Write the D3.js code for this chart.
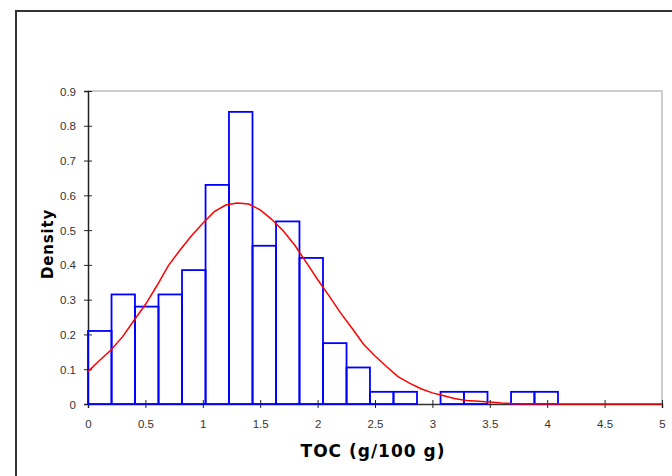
<!DOCTYPE html>
<html>
<head>
<meta charset="utf-8">
<script src="https://cdn.jsdelivr.net/npm/d3@7"></script>
<style>
  body { margin: 0; background: #fff; }
  .axis-title { font-family: "DejaVu Sans", Verdana, sans-serif; font-weight: bold; fill: #000; }
</style>
</head>
<body>
<div id="chart"></div>
<script>
        // histogram bins (TOC, g/100 g) and density per bin
        const binEdges = [0, 0.205, 0.409, 0.614, 0.819, 1.024, 1.228, 1.433, 1.638, 1.842, 2.047,
            2.252, 2.456, 2.661, 2.866, 3.071, 3.275, 3.480, 3.685, 3.889, 4.094];
        const binDensity = [0.21, 0.315, 0.28, 0.315, 0.385, 0.63, 0.84, 0.455, 0.525, 0.42,
            0.175, 0.105, 0.035, 0.035, 0, 0.035, 0.035, 0, 0.035, 0.035];

        // fitted density curve
        const curveX = [0, 0.1, 0.2, 0.3, 0.4, 0.5, 0.6, 0.7, 0.8, 0.9, 1.0, 1.1, 1.2, 1.3, 1.4, 1.5,
            1.6, 1.7, 1.8, 1.9, 2.0, 2.1, 2.2, 2.3, 2.4, 2.5, 2.6, 2.7, 2.8, 2.9, 3.0, 3.1, 3.2, 3.3,
            3.4, 3.5, 3.6, 3.7, 3.8, 5.0];
        const curveY = [0.093, 0.125, 0.155, 0.193, 0.24, 0.286, 0.34, 0.398, 0.442, 0.483, 0.52,
            0.553, 0.572, 0.578, 0.575, 0.558, 0.531, 0.498, 0.457, 0.408, 0.358, 0.311, 0.262,
            0.218, 0.172, 0.138, 0.108, 0.079, 0.06, 0.044, 0.032, 0.024, 0.015, 0.01, 0.008,
            0.006, 0.003, 0.001, 0, 0];

        const xTicks = [0, 0.5, 1, 1.5, 2, 2.5, 3, 3.5, 4, 4.5, 5];
        const yTicks = [0, 0.1, 0.2, 0.3, 0.4, 0.5, 0.6, 0.7, 0.8, 0.9];

        const width = 672, height = 476;
        const plot = { left: 88, right: 662, top: 91, bottom: 404 };

        const svg = d3.select("#chart")
            .append("svg")
            .attr("width", width)
            .attr("height", height);

        // outer chart frame
        svg.append("rect")
            .attr("x", 16).attr("y", 11)
            .attr("width", 700).attr("height", 500)
            .attr("fill", "none")
            .attr("stroke", "#333")
            .attr("stroke-width", 2);

        const x = d3.scaleLinear().domain([0, 5]).range([plot.left, plot.right]);
        const y = d3.scaleLinear().domain([0, 0.9]).range([plot.bottom, plot.top]);

        // plot area border (top and right)
        svg.append("path")
            .attr("d", `M${plot.left},${plot.top}H${plot.right}V${plot.bottom}`)
            .attr("fill", "none")
            .attr("stroke", "#bdbdbd")
            .attr("stroke-width", 1.5);

        const xAxis = svg.append("g")
            .attr("transform", `translate(0,${plot.bottom})`)
            .call(d3.axisBottom(x).tickValues(xTicks).tickFormat(d3.format("")).tickSize(4).tickPadding(12));
        xAxis.select(".domain").attr("stroke", "#333").attr("stroke-width", 1.5);
        xAxis.selectAll(".tick line").attr("y1", -4).attr("stroke", "#222");

        const yAxis = svg.append("g")
            .attr("transform", `translate(${plot.left},0)`)
            .call(d3.axisLeft(y).tickValues(yTicks).tickFormat(d3.format("")).tickSize(4).tickPadding(8));
        yAxis.select(".domain").attr("stroke", "#222").attr("stroke-width", 1.5);
        yAxis.selectAll(".tick line").attr("x1", 4).attr("stroke", "#222");
        yAxis.selectAll(".tick text").attr("dy", "0.35em");

        [xAxis, yAxis].forEach(g => g
            .attr("font-family", "'Liberation Sans', Arial, sans-serif")
            .attr("font-size", 11.5)
            .selectAll(".tick text").attr("fill", "#333"));

        // histogram bars
        svg.append("g")
            .selectAll("rect")
            .data(binDensity)
            .join("rect")
            .attr("x", (d, i) => x(binEdges[i]))
            .attr("y", d => y(d))
            .attr("width", (d, i) => x(binEdges[i + 1]) - x(binEdges[i]))
            .attr("height", d => y(0) - y(d))
            .attr("fill", "none")
            .attr("stroke", "#0000ff")
            .attr("stroke-width", 1.8);

        // density curve
        const line = d3.line()
            .x(d => x(d[0]))
            .y(d => y(d[1]));

        svg.append("path")
            .datum(d3.zip(curveX, curveY))
            .attr("d", line)
            .attr("fill", "none")
            .attr("stroke", "#ff0000")
            .attr("stroke-width", 1.5);

        svg.append("text")
            .attr("class", "axis-title")
            .attr("x", 373)
            .attr("y", 457)
            .attr("text-anchor", "middle")
            .style("font-size", "17px")
            .style("letter-spacing", "1px")
            .text("TOC (g/100 g)");

        svg.append("text")
            .attr("class", "axis-title")
            .attr("transform", "translate(53,244) rotate(-90)")
            .attr("text-anchor", "middle")
            .style("font-size", "15px")
            .style("letter-spacing", "0.8px")
            .text("Density");
</script>
</body>
</html>
